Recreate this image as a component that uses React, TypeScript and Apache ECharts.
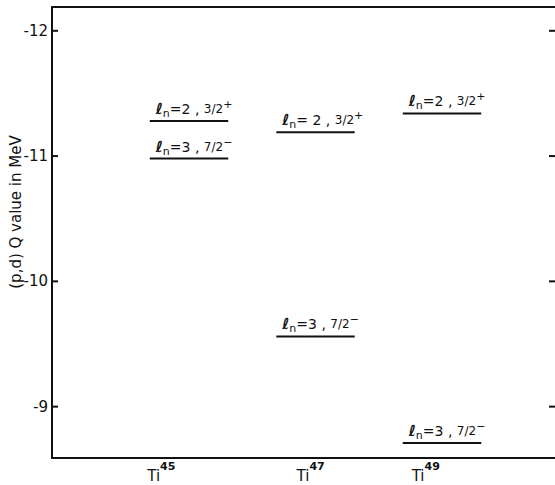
import React, { useEffect, useRef } from "react";
import * as echarts from "echarts";

// Data
const isotopes = ["45", "47", "49"];
const isotopeX = [1, 2, 3];
const isotopeLabelX = [0.67, 1.85, 2.76];
const levelIsotope = [0, 0, 1, 1, 2, 2];
const levelQ = [-11.28, -10.98, -11.19, -9.56, -11.34, -8.71];
const levelL = ["2", "3", " 2", "3", "2", "3"];
const levelJ = ["3/2", "7/2", "3/2", "7/2", "3/2", "7/2"];
const levelParity = ["+", "−", "+", "−", "+", "−"];
const yTicks = [-12, -11, -10, -9];
const yTitle = "(p,d) Q value in MeV";

const Y_MIN = -12.19;
const Y_MAX = -8.59;
const X_MIN = -0.083;
const X_MAX = 3.909;
const HALF = 0.31;
const INK = "#111";
const FONT = "DejaVu Sans";

export default function App() {
  const ref = useRef<HTMLDivElement>(null);
  useEffect(() => {
    document.body.style.margin = "0";
    const chart = echarts.init(ref.current!, null, { renderer: "svg" });
    const levelData = levelQ.map((q, i) => [isotopeX[levelIsotope[i]], q]);
    const isoData = isotopes.map((_, i) => [isotopeLabelX[i], Y_MAX]);
    const tickData = yTicks.map((t) => [X_MIN, t]);
    chart.setOption({
      animation: false,
      backgroundColor: "#fff",
      grid: {
        left: 52,
        top: 7,
        right: -2,
        bottom: 27,
        containLabel: false,
        outerBoundsMode: "none",
      },
      xAxis: [
        {
          type: "value",
          min: X_MIN,
          max: X_MAX,
          position: "bottom",
          axisLine: { show: true, onZero: false, lineStyle: { color: INK, width: 2 } },
          axisTick: { show: false },
          axisLabel: { show: false },
          splitLine: { show: false },
        },
        {
          type: "value",
          min: X_MIN,
          max: X_MAX,
          position: "top",
          axisLine: { show: true, onZero: false, lineStyle: { color: INK, width: 2 } },
          axisTick: { show: false },
          axisLabel: { show: false },
          splitLine: { show: false },
        },
      ],
      yAxis: [
        {
          type: "value",
          inverse: true,
          min: Y_MIN,
          max: Y_MAX,
          position: "left",
          axisLine: { show: true, onZero: false, lineStyle: { color: INK, width: 2 } },
          axisTick: { show: false },
          axisLabel: {
            show: true,
            customValues: yTicks,
            margin: 4,
            color: INK,
            fontSize: 15,
            fontFamily: FONT,
            formatter: (v: number) => String(v),
          },
          splitLine: { show: false },
        },
      ],
      graphic: [
        {
          type: "text",
          x: 16,
          y: 212,
          rotation: Math.PI / 2,
          style: {
            text: yTitle,
            fill: INK,
            fontSize: 15,
            fontFamily: FONT,
            align: "center",
            verticalAlign: "middle",
          },
        },
      ],
      series: [
        {
          type: "custom",
          xAxisIndex: 0,
          yAxisIndex: 0,
          data: tickData,
          clip: false,
          renderItem: (params: any, api: any) => {
            const t = api.value(1);
            const l = api.coord([X_MIN, t]);
            const r = api.coord([X_MAX, t]);
            return {
              type: "group",
              children: [
                {
                  type: "line",
                  shape: { x1: l[0], y1: l[1], x2: l[0] + 6, y2: l[1] },
                  style: { stroke: INK, lineWidth: 2 },
                },
                {
                  type: "line",
                  shape: { x1: r[0] - 8, y1: r[1], x2: r[0], y2: r[1] },
                  style: { stroke: INK, lineWidth: 2 },
                },
              ],
            };
          },
        },
        {
          type: "custom",
          xAxisIndex: 0,
          yAxisIndex: 0,
          data: levelData,
          clip: false,
          renderItem: (params: any, api: any) => {
            const x = api.value(0);
            const q = api.value(1);
            const i = params.dataIndex;
            const p0 = api.coord([x - HALF, q]);
            const p1 = api.coord([x + HALF, q]);
            return {
              type: "group",
              children: [
                {
                  type: "line",
                  shape: { x1: p0[0], y1: p0[1], x2: p1[0], y2: p1[1] },
                  style: { stroke: INK, lineWidth: 2 },
                },
                {
                  type: "text",
                  x: p0[0] + 6,
                  y: p0[1] - 2,
                  style: {
                    text: `{l|ℓ}{n|n}{b|=${levelL[i]} , }{f|${levelJ[i]}}{p|${levelParity[i]}}`,
                    align: "left",
                    verticalAlign: "bottom",
                    fill: INK,
                    rich: {
                      l: { fontSize: 15, fontStyle: "italic", fontWeight: "bold", fontFamily: FONT, fill: INK, lineHeight: 20, verticalAlign: "middle" },
                      n: { fontSize: 11, fontFamily: FONT, fill: INK, lineHeight: 20, verticalAlign: "bottom" },
                      b: { fontSize: 14, fontFamily: FONT, fill: INK, lineHeight: 20, verticalAlign: "middle" },
                      f: { fontSize: 12, fontFamily: FONT, fill: INK, lineHeight: 20, verticalAlign: "middle" },
                      p: { fontSize: 11, fontFamily: FONT, fill: INK, lineHeight: 20, verticalAlign: "top" },
                    },
                  },
                },
              ],
            };
          },
        },
        {
          type: "custom",
          xAxisIndex: 0,
          yAxisIndex: 0,
          data: isoData,
          clip: false,
          renderItem: (params: any, api: any) => {
            const p = api.coord([api.value(0), api.value(1)]);
            const i = params.dataIndex;
            return {
              type: "text",
              x: p[0],
              y: p[1] + 3,
              style: {
                text: `{t|Ti}{s|${isotopes[i]}}`,
                align: "left",
                verticalAlign: "top",
                fill: INK,
                rich: {
                  t: { fontSize: 15, fontFamily: FONT, fill: INK, lineHeight: 22, verticalAlign: "bottom" },
                  s: { fontSize: 11, fontFamily: FONT, fontWeight: "bold", fill: INK, lineHeight: 22, verticalAlign: "top" },
                },
              },
            };
          },
        },
      ],
    });
    return () => chart.dispose();
  }, []);
  return (
    <div
      ref={ref}
      style={{ position: "absolute", left: 0, top: 0, width: 555, height: 485 }}
    />
  );
}
